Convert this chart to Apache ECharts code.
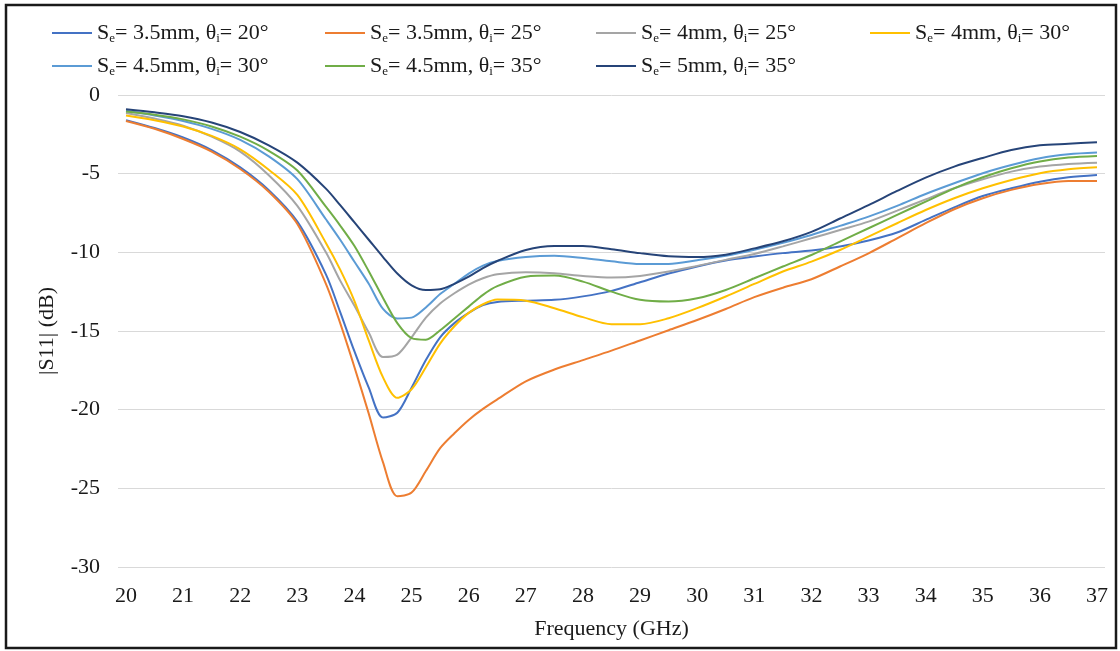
<!DOCTYPE html>
<html>
<head>
<meta charset="utf-8">
<script src="https://cdn.jsdelivr.net/npm/echarts@6/dist/echarts.min.js"></script>
<style>
  html, body { margin: 0; padding: 0; background: #fff; }
  #chart { width: 1120px; height: 651px; }
</style>
</head>
<body>
<div id="chart"></div>
<script>
// frequency samples (GHz), denser around the resonance dip
var freq = [20, 20.5, 21, 21.5, 22, 22.5, 23, 23.5,
    23.75, 24, 24.25, 24.5, 24.75, 25, 25.25, 25.5, 25.75, 26, 26.25, 26.5,
    27, 27.5, 28, 28.5, 29, 29.5, 30, 30.5, 31, 31.5, 32, 32.5, 33, 33.5, 34, 34.5, 35, 35.5, 36, 36.5, 37];
var xTicks = [20, 21, 22, 23, 24, 25, 26, 27, 28, 29, 30, 31, 32, 33, 34, 35, 36, 37];

// legend parts
var seLabels = ['3.5mm', '3.5mm', '4mm', '4mm', '4.5mm', '4.5mm', '5mm'];
var thetaLabels = ['20°', '25°', '25°', '30°', '30°', '35°', '35°'];
var colors = ['#4472C4', '#ED7D31', '#A5A5A5', '#FFC000', '#5B9BD5', '#70AD47', '#264478'];

// |S11| in dB
var s11_35_20 = [-1.6, -2.1, -2.7, -3.5, -4.6, -6.05, -8.05, -11.4,
    -13.8, -16.3, -18.6, -20.5, -20.2, -18.6, -16.85, -15.4, -14.5, -13.85, -13.35, -13.15,
    -13.07, -13.02, -12.8, -12.45, -11.9, -11.35, -10.9, -10.52, -10.27, -10.05, -9.89, -9.63, -9.25, -8.74, -7.94, -7.14, -6.42, -5.93, -5.51, -5.23, -5.08];
var s11_35_25 = [-1.65, -2.15, -2.8, -3.6, -4.7, -6.15, -8.2, -12.0,
    -14.5, -17.3, -20.25, -23.35, -25.5, -25.27, -23.9, -22.45, -21.5, -20.65, -19.95, -19.35,
    -18.2, -17.45, -16.85, -16.25, -15.6, -14.95, -14.3, -13.6, -12.85, -12.25, -11.71, -10.9, -10.06, -9.11, -8.15, -7.26, -6.56, -6.03, -5.65, -5.46, -5.46];
var s11_4_25 = [-1.15, -1.5, -1.95, -2.65, -3.6, -5.1, -7.05, -10.0,
    -11.8, -13.4, -15.1, -16.65, -16.5, -15.4, -14.15, -13.25, -12.6, -12.05, -11.65, -11.4,
    -11.27, -11.33, -11.5, -11.6, -11.5, -11.22, -10.86, -10.48, -10.1, -9.62, -9.11, -8.58, -8.05, -7.35, -6.63, -5.93, -5.36, -4.87, -4.55, -4.38, -4.3];
var s11_4_30 = [-1.3, -1.6, -2.0, -2.6, -3.45, -4.75, -6.35, -9.4,
    -11.1, -13.1, -15.6, -17.95, -19.25, -18.7, -17.3, -15.8, -14.7, -13.85, -13.3, -13.0,
    -13.07, -13.55, -14.12, -14.57, -14.57, -14.19, -13.55, -12.81, -12.01, -11.22, -10.59, -9.85, -9.0, -8.15, -7.31, -6.56, -5.93, -5.4, -4.97, -4.72, -4.6];
var s11_45_30 = [-1.0, -1.3, -1.65, -2.15, -2.85, -3.9, -5.35, -7.9,
    -9.2, -10.6, -12.0, -13.6, -14.2, -14.15, -13.5, -12.65, -12.0, -11.35, -10.85, -10.55,
    -10.3, -10.22, -10.36, -10.57, -10.74, -10.74, -10.5, -10.22, -9.84, -9.4, -8.9, -8.32, -7.73, -7.05, -6.29, -5.61, -4.97, -4.45, -4.02, -3.77, -3.66];
var s11_45_35 = [-1.05, -1.25, -1.55, -2.0, -2.65, -3.55, -4.8, -7.1,
    -8.3, -9.6, -11.2, -12.9, -14.5, -15.45, -15.55, -14.95, -14.2, -13.45, -12.7, -12.15,
    -11.55, -11.48, -11.86, -12.5, -13.02, -13.13, -12.92, -12.39, -11.65, -10.9, -10.17, -9.32, -8.47, -7.62, -6.78, -5.93, -5.23, -4.66, -4.23, -3.98, -3.88];
var s11_5_35 = [-0.9, -1.1, -1.35, -1.75, -2.35, -3.2, -4.3, -5.95,
    -7.0, -8.1, -9.2, -10.3, -11.35, -12.1, -12.4, -12.35, -12.0, -11.55, -11.0, -10.55,
    -9.85, -9.6, -9.6, -9.8, -10.05, -10.25, -10.3, -10.15, -9.75, -9.3, -8.7, -7.85, -7.0, -6.1, -5.25, -4.55, -4.0, -3.5, -3.2, -3.1, -3.0];

var allData = [s11_35_20, s11_35_25, s11_4_25, s11_4_30, s11_45_30, s11_45_35, s11_5_35];

var FONT = 'Liberation Serif';
var TXT = '#1a1a1a';
var FS = 22;

var names = [];
for (var i = 0; i < seLabels.length; ++i) {
    names.push('Se= ' + seLabels[i] + ', θi= ' + thetaLabels[i]);
}

var ser = [];
for (var i = 0; i < allData.length; ++i) {
    var pts = [];
    for (var j = 0; j < freq.length; ++j) {
        pts.push([freq[j], allData[i][j]]);
    }
    ser.push({
        name: names[i],
        type: 'line',
        smooth: 0.3,
        showSymbol: false,
        lineStyle: { width: 2, color: colors[i] },
        itemStyle: { color: colors[i] },
        data: pts
    });
}

// legend laid out like the excel one: 4 columns, 2 rows
var legendPos = [[52, 22], [325, 22], [596, 22], [870, 22], [52, 55], [325, 55], [596, 55]];
var legends = [];
for (var i = 0; i < names.length; ++i) {
    legends.push({
        left: legendPos[i][0],
        top: legendPos[i][1],
        data: [names[i]],
        icon: 'rect',
        itemWidth: 40,
        itemHeight: 2,
        selectedMode: false,
        padding: 0,
        formatter: function (name) {
            var k = names.indexOf(name);
            return '{n|S}{s|e}{n|= ' + seLabels[k] + ', θ}{s|i}{n|= ' + thetaLabels[k] + '}';
        },
        textStyle: {
            rich: {
                n: { fontFamily: FONT, fontSize: FS, color: TXT, lineHeight: 25 },
                s: { fontFamily: FONT, fontSize: 13, color: TXT, padding: [11, 0, 0, 0] }
            }
        }
    });
}

var option = {
    animation: false,
    backgroundColor: '#fff',
    legend: legends,
    grid: { left: 118, right: 15, top: 95, bottom: 84 },
    xAxis: {
        type: 'value',
        min: 19.86,
        max: 37.14,
        name: 'Frequency (GHz)',
        nameLocation: 'middle',
        nameGap: 51,
        nameTextStyle: { fontFamily: FONT, fontSize: FS, color: TXT },
        axisLine: { show: false },
        axisTick: { show: false },
        splitLine: { show: false },
        axisLabel: {
            customValues: xTicks,
            margin: 18,
            fontFamily: FONT, fontSize: FS, color: TXT
        }
    },
    yAxis: {
        type: 'value',
        min: -30,
        max: 0,
        interval: 5,
        name: '|S11| (dB)',
        nameLocation: 'middle',
        nameGap: 60,
        nameTextStyle: { fontFamily: FONT, fontSize: FS, color: TXT },
        axisLine: { show: false },
        axisTick: { show: false },
        splitLine: { lineStyle: { color: '#d9d9d9', width: 1 } },
        axisLabel: { margin: 18, fontFamily: FONT, fontSize: FS, color: TXT }
    },
    graphic: [{
        type: 'rect',
        shape: { x: 6, y: 5, width: 1110, height: 643 },
        style: { fill: 'none', stroke: '#1a1a1a', lineWidth: 2.5 },
        silent: true
    }],
    series: ser
};

echarts.init(document.getElementById('chart')).setOption(option);
</script>
</body>
</html>
